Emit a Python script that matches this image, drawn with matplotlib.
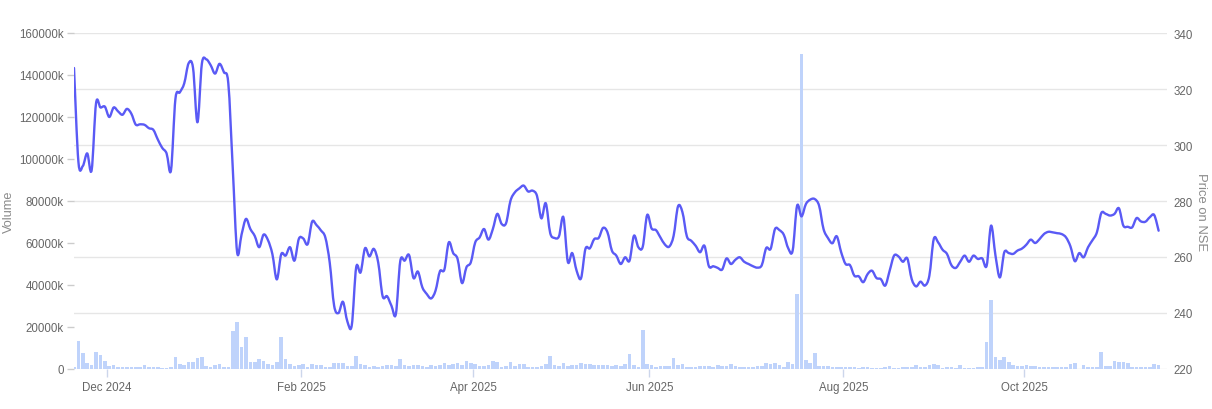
import matplotlib
matplotlib.use("Agg")
import matplotlib.pyplot as plt
from matplotlib.path import Path
from matplotlib.patches import PathPatch
import pandas as pd
import numpy as np

# ---------------- data ----------------
price = [
    327.5, 294.0, 292.5, 297.0, 291.0, 314.9, 313.4, 313.7, 310.0, 313.4,
    312.0, 310.8, 312.9, 311.2, 307.3, 307.4, 307.2, 306.0, 305.4, 302.0,
    299.0, 297.0, 291.0, 316.4, 318.8, 322.0, 329.2, 327.5, 308.1, 329.0,
    330.6, 328.5, 325.5, 329.0, 326.0, 322.0, 292.0, 261.7, 268.0, 273.6,
    270.0, 267.5, 263.5, 268.0, 266.0, 261.0, 252.0, 261.0, 260.5, 263.5,
    258.7, 266.5, 266.6, 264.6, 272.6, 271.4, 269.5, 267.0, 258.0, 242.6,
    240.0, 244.0, 237.0, 235.6, 256.3, 254.5, 263.1, 260.2, 262.9, 258.0,
    246.0, 246.0, 242.6, 239.6, 258.5, 258.7, 260.7, 252.5, 254.8, 249.2,
    246.8, 245.2, 248.0, 254.9, 255.5, 265.2, 261.4, 259.3, 250.7, 256.3,
    258.1, 265.2, 267.0, 270.0, 266.2, 270.0, 275.4, 271.8, 272.1, 280.1,
    283.1, 284.5, 285.5, 283.4, 283.7, 281.9, 273.8, 279.2, 268.6, 266.8,
    267.4, 274.2, 258.3, 261.4, 255.1, 252.4, 262.9, 263.1, 266.4, 266.8,
    270.4, 268.8, 262.3, 260.5, 257.5, 259.9, 258.7, 267.6, 263.5, 263.7,
    275.0, 270.2, 269.6, 267.0, 264.5, 263.7, 267.6, 278.1, 276.0, 267.4,
    265.8, 264.0, 261.7, 264.0, 256.7, 256.7, 256.1, 255.5, 259.5, 257.5,
    259.0, 259.9, 258.3, 257.5, 256.7, 256.2, 257.1, 263.2, 262.9, 270.0,
    269.6, 267.9, 263.1, 262.3, 278.3, 274.5, 278.9, 280.5, 280.7, 278.3,
    270.0, 266.8, 264.9, 267.4, 261.7, 257.5, 257.1, 253.3, 253.1, 251.0,
    253.9, 255.1, 252.5, 252.1, 249.8, 255.1, 260.5, 260.2, 258.3, 259.5,
    252.1, 249.5, 251.2, 249.8, 253.3, 266.4, 265.2, 262.6, 261.1, 257.1,
    256.1, 258.3, 260.5, 258.3, 260.5, 259.3, 259.5, 256.9, 271.2, 260.5,
    252.7, 261.7, 261.4, 261.1, 262.3, 263.0, 264.4, 266.2, 265.0, 266.4,
    268.2, 269.0, 268.8, 268.5, 268.2, 267.0, 263.8, 258.5, 261.4, 259.9,
    263.5, 266.0, 268.8, 275.7, 275.4, 274.8, 275.4, 277.4, 271.2, 270.8,
    270.6, 273.9, 272.7, 272.6, 274.2, 275.0, 269.4,
]

volume_k = [
    800, 13500, 7600, 2900, 2100, 8300, 6700, 3700, 1600, 1900,
    1000, 1100, 1100, 1000, 800, 800, 2100, 1000, 800, 800,
    700, 600, 1100, 5900, 2400, 1900, 3200, 3500, 5100, 5700,
    1600, 1000, 1900, 2200, 1100, 1100, 18200, 22200, 10300, 15400,
    3500, 3500, 4600, 3800, 2200, 2100, 3200, 15100, 4800, 2400,
    1600, 2100, 2200, 1100, 2200, 1900, 1700, 1000, 1000, 2900,
    2900, 2900, 1400, 1300, 6200, 2400, 1900, 1100, 1400, 1000,
    1600, 2100, 1900, 1600, 4800, 1700, 1600, 1900, 1900, 1600,
    1100, 1700, 1400, 1900, 3000, 2100, 2500, 2700, 2100, 3800,
    2900, 2500, 1300, 1400, 2100, 3700, 3200, 1000, 1400, 3300,
    1600, 2200, 2200, 1000, 1000, 1000, 1400, 2400, 6000, 1900,
    1600, 2700, 1600, 1700, 1700, 2700, 2200, 2200, 1900, 1700,
    1700, 1700, 1600, 1700, 1400, 2200, 7300, 1700, 1000, 18600,
    2400, 1900, 1000, 1300, 1300, 1300, 5200, 1900, 2400, 1100,
    1100, 1100, 1400, 1400, 1600, 1000, 1700, 1300, 1400, 2400,
    1300, 1100, 1100, 1100, 1100, 1600, 1300, 2700, 2200, 2900,
    1900, 1100, 3200, 2200, 35500, 150000, 4400, 2900, 7600, 1400,
    1600, 1600, 900, 900, 1100, 1000, 800, 1000, 600, 1000,
    800, 500, 500, 600, 1000, 1300, 600, 600, 800, 1000,
    1100, 1700, 800, 1000, 1900, 2400, 1700, 600, 800, 800,
    600, 1900, 600, 600, 600, 1000, 800, 13000, 32800, 5700,
    4400, 5700, 3300, 1900, 1600, 1600, 1900, 1600, 1400, 1000,
    1100, 1100, 1000, 1000, 800, 1000, 2200, 2700, 200, 1900,
    1100, 1100, 1100, 7900, 1600, 1600, 3800, 3500, 3500, 2700,
    1100, 1100, 800, 800, 1100, 2400, 1900,
]

month_ticks = ["2024-12-01", "2025-02-01", "2025-04-01",
               "2025-06-01", "2025-08-01", "2025-10-01"]
month_labels = ["Dec 2024", "Feb 2025", "Apr 2025",
                "Jun 2025", "Aug 2025", "Oct 2025"]

volume_ticks = [0, 20000, 40000, 60000, 80000, 100000, 120000, 140000, 160000]
price_ticks = [220, 240, 260, 280, 300, 320, 340]

# NSE trading calendar (index-based / ordinal x axis)
holidays = ["2024-12-25", "2025-02-26", "2025-03-14", "2025-03-31",
            "2025-04-10", "2025-04-14", "2025-04-18", "2025-05-01",
            "2025-08-15", "2025-08-27", "2025-10-02", "2025-10-22",
            "2025-11-05"]
days = pd.bdate_range("2024-11-21", "2025-12-31", freq="C", holidays=holidays)
days = days.append(pd.DatetimeIndex(["2025-02-01"])).sort_values()
dates = days[:len(price)]
idx = np.arange(len(price))

# ---------------- style ----------------
FONT = "Liberation Sans"
plt.rcParams["font.family"] = [FONT, "DejaVu Sans"]
LINE_C = "#5a5af5"
BAR_C = "#bfd3fb"
GRID_C = "#e6e6e6"
TICK_C = "#666666"
TITLE_C = "#8a8a8a"

W, H = 1212, 410
fig = plt.figure(figsize=(W / 100, H / 100), dpi=100)
left_px, right_px, top_px, bot_px = 74, 1167, 34, 370
ax = fig.add_axes([left_px / W, 1 - bot_px / H,
                   (right_px - left_px) / W, (bot_px - top_px) / H])
ax2 = ax.twinx()

px_per_day = 4.409
x0 = 74.0
ax.set_xlim((left_px - x0) / px_per_day, (right_px - x0) / px_per_day)

# volume bars
ax.bar(idx, volume_k, width=0.82, color=BAR_C, zorder=2, linewidth=0)
ax.set_ylim(0, 160000)
ax.set_yticks(volume_ticks)
ax.set_yticklabels(["0" if v == 0 else f"{v}k" for v in volume_ticks])

# gridlines from the price axis, drawn behind the bars
pmin, pmax = 220, 340
for p in price_ticks:
    ax.axhline((p - pmin) / (pmax - pmin) * 160000, color=GRID_C, lw=1, zorder=1)

# price line as a smooth spline (Catmull-Rom -> cubic Bezier through data points)
xs = idx.astype(float)
ys = np.asarray(price, dtype=float)
n = len(xs)
verts = [(xs[0], ys[0])]
codes = [Path.MOVETO]
for i in range(n - 1):
    xm, ym = (xs[i - 1], ys[i - 1]) if i > 0 else (xs[i], ys[i])
    xp2, yp2 = (xs[i + 2], ys[i + 2]) if i + 2 < n else (xs[i + 1], ys[i + 1])
    c1 = (xs[i] + (xs[i + 1] - xm) / 6.0, ys[i] + (ys[i + 1] - ym) / 6.0)
    c2 = (xs[i + 1] - (xp2 - xs[i]) / 6.0, ys[i + 1] - (yp2 - ys[i]) / 6.0)
    verts += [c1, c2, (xs[i + 1], ys[i + 1])]
    codes += [Path.CURVE4, Path.CURVE4, Path.CURVE4]
ax2.add_patch(PathPatch(Path(verts, codes), facecolor="none", edgecolor=LINE_C,
                        lw=1.7, joinstyle="round", capstyle="round", zorder=3))
ax2.set_ylim(pmin, pmax)
ax2.set_yticks(price_ticks)
ax2.set_xlim(ax.get_xlim())

# x ticks at month starts
tick_pos = []
for m in month_ticks:
    i = int(np.searchsorted(dates.values, np.datetime64(m)))
    tick_pos.append(i + 0.5)
ax.set_xticks(tick_pos)
ax.set_xticklabels(month_labels)

for a in (ax, ax2):
    for s in a.spines.values():
        s.set_visible(False)

ax.tick_params(axis="x", length=5.8, width=1, color="#ccd6eb", pad=3,
               labelsize=8.3, labelcolor=TICK_C)
ax.tick_params(axis="y", length=5.3, width=1, color="#cccccc", pad=2,
               labelsize=8.3, labelcolor=TICK_C)
ax2.tick_params(axis="y", length=0, pad=4.5, labelsize=8.3, labelcolor=TICK_C)

fig.text(9 / W, 1 - 212 / H, "Volume", rotation=90, ha="center", va="center",
         fontsize=9.2, color=TITLE_C)
fig.text(1201 / W, 1 - 212 / H, "Price on NSE", rotation=270, ha="center",
         va="center", fontsize=9.4, color=TITLE_C)

fig.savefig("out.png", dpi=100)
